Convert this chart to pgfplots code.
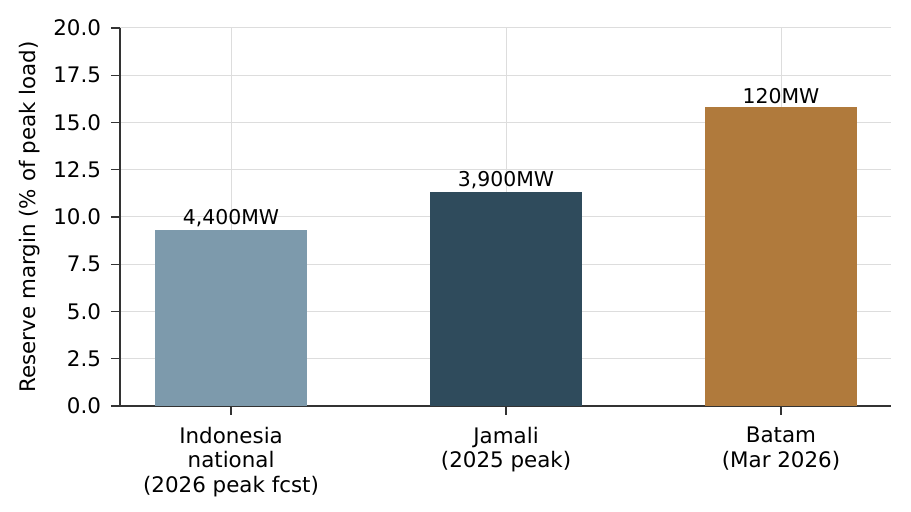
\documentclass[border=0pt]{standalone}
\usepackage{pgfplots}
\pgfplotsset{compat=1.18}
\usepackage{fontspec}
\setmainfont{DejaVu Sans}
\definecolor{cA}{HTML}{7D9AAC}
\definecolor{cB}{HTML}{2F4B5C}
\definecolor{cC}{HTML}{B07A3C}
\definecolor{spine}{HTML}{333333}
\definecolor{gridc}{HTML}{DDDDDD}
\begin{document}
\begin{tikzpicture}[font=\fontsize{10.9}{12.2}\selectfont]
\path[use as bounding box] (-60pt,-53pt) rectangle (395.5pt,203pt);
\begin{axis}[
  at={(0,0)}, anchor=south west,
  scale only axis, width=385.5pt, height=189pt,
  xmin=-0.404, xmax=2.4, ymin=0, ymax=20,
  ybar, bar width=0.55,
  axis x line*=bottom, axis y line*=left,
  axis line style={-, draw=spine, line width=0.6pt},
  tick align=outside, major tick length=4.5pt,
  tick style={draw=spine, line width=0.6pt},
  xtick={0,1,2},
  xticklabels={{Indonesia\\national\\(2026 peak fcst)},{Jamali\\(2025 peak)},{Batam\\(Mar 2026)}},
  xticklabel style={align=center, font=\fontsize{10.7}{12.2}\selectfont, yshift=-2.5pt},
  ytick={0,2.5,...,20},
  yticklabel style={font=\fontsize{10.7}{12.2}\selectfont, xshift=-1.5pt, /pgf/number format/.cd, fixed, fixed zerofill, precision=1},
  /pgf/number format/assume math mode=true,
  grid=major,
  major grid style={draw=gridc, line width=0.5pt},
  ylabel={Reserve margin (\% of peak load)},
  ylabel style={at={(axis description cs:0,0.5)}, anchor=center, yshift=45pt, font=\fontsize{10.7}{12.2}\selectfont},
  point meta=explicit symbolic,
  nodes near coords={\pgfplotspointmeta},
  every node near coord/.append style={font=\fontsize{10.2}{11}\selectfont, inner sep=1.5pt},
]
\addplot[fill=cA, draw=none, bar shift=0pt] coordinates {(0,9.31) [4{,}400MW]};
\addplot[fill=cB, draw=none, bar shift=0pt] coordinates {(1,11.32) [3{,}900MW]};
\addplot[fill=cC, draw=none, bar shift=0pt] coordinates {(2,15.82) [120MW]};
\end{axis}
\end{tikzpicture}
\end{document}
